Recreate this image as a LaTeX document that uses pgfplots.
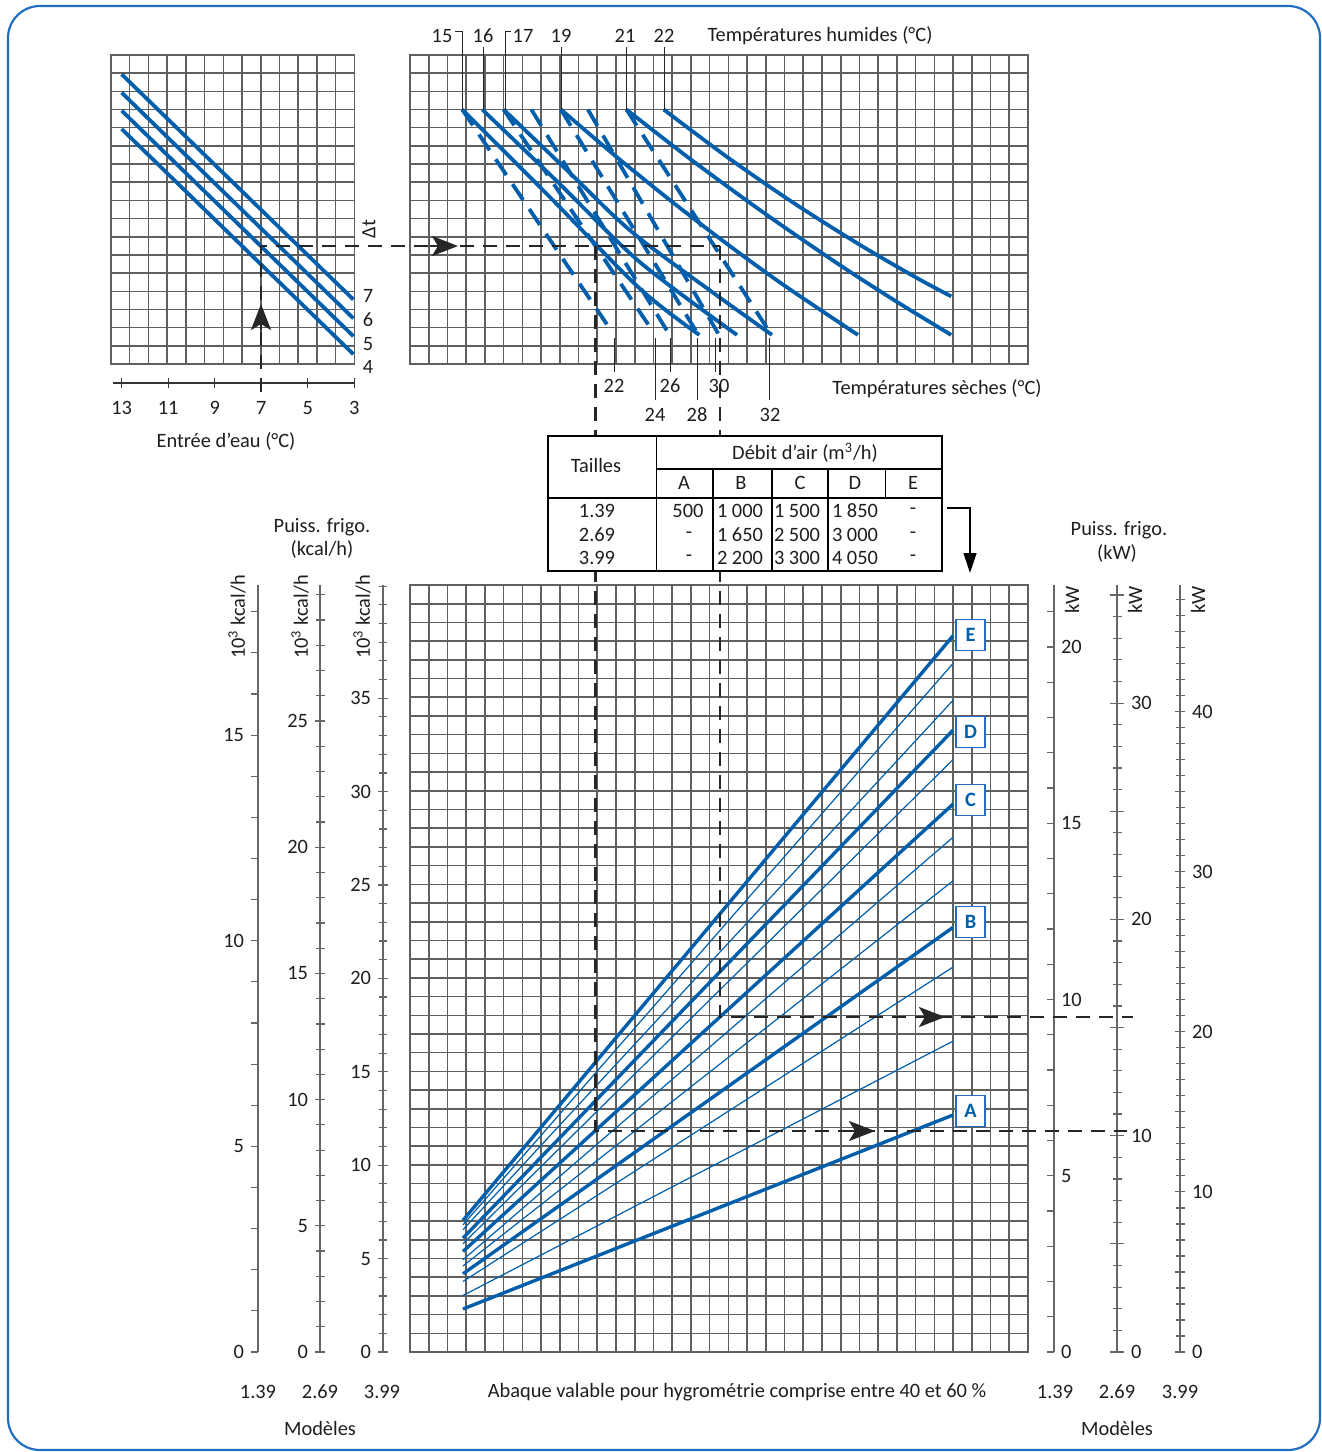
\documentclass[border=0pt]{standalone}
\usepackage{pgfplots}
\pgfplotsset{compat=1.18}
\usepackage{fontspec}
\setmainfont{Carlito}
\usetikzlibrary{arrows.meta}
\definecolor{bl}{RGB}{0,94,170}
\definecolor{fr}{RGB}{35,110,195}
\definecolor{gc}{RGB}{95,95,95}
\definecolor{tx}{RGB}{30,30,30}
\newcommand{\fs}{\fontsize{10.2}{12}\selectfont}
\pgfplotsset{
  every axis/.append style={/pgf/number format/assume math mode=true,
     tick label style={font=\fs, text=tx}},
  gridax/.style={scale only axis, anchor=south west, clip=false,
     xtick distance=1, ytick distance=1, xticklabels={}, yticklabels={},
     major tick length=0pt, tick style={draw=none},
     grid=major, major grid style={gc, line width=0.78pt},
     axis line style={gc, line width=0.8pt}},
  bthick/.style={bl, line width=1.9pt, mark=none},
  bdash/.style={bl, line width=1.9pt, mark=none, dash pattern=on 9.5pt off 5.5pt},
  bheavy/.style={bl, line width=1.7pt, mark=none},
  bthin/.style={bl, line width=0.6pt, mark=none},
  vscale/.style={scale only axis, width=1pt, height=383.5pt, xmin=0, xmax=1, ymin=0,
     hide x axis, y axis line style={-, gray!80!black, line width=0.8pt},
     tick style={gray!80!black, line width=0.6pt}},
}
\begin{document}
\begin{tikzpicture}[font=\fs, text=tx]
% ---------- top-left panel ----------
\begin{axis}[gridax, at={(55.5pt,-182pt)}, width=121.65pt, height=154.5pt,
  xmin=0, xmax=13, ymin=0, ymax=17]
\addplot[bthick] coordinates {(0.57,15.94) (12.95,3.55)};
\addplot[bthick] coordinates {(0.57,14.93) (12.95,2.51)};
\addplot[bthick] coordinates {(0.57,13.94) (12.95,1.53)};
\addplot[bthick] coordinates {(0.57,12.93) (12.95,0.54)};
\end{axis}
% scale "Entree d'eau"
\begin{axis}[scale only axis, anchor=south west, at={(56.5pt,-191.5pt)},
  width=120.65pt, height=1pt, xmin=3, xmax=13.37, ymin=0, ymax=1, x dir=reverse,
  hide y axis, axis x line*=bottom, x axis line style={-, black!80, line width=0.7pt},
  xtick={3,5,7,9,11,13}, tick align=center, major tick length=5pt,
  tick style={black!80, line width=0.6pt}, xticklabel style={yshift=-3pt}]
\end{axis}
% ---------- top-right panel ----------
\begin{axis}[gridax, at={(205pt,-182pt)}, width=309pt, height=154.5pt,
  xmin=0, xmax=33, ymin=0, ymax=17]
% dry temperatures (dashed)
\addplot[bdash] coordinates {(2.79,14) (10.7,1.9)};
\addplot[bdash] coordinates {(5.0,14) (12.9,1.9)};
\addplot[bdash] coordinates {(6.48,14) (13.86,1.6)};
\addplot[bdash] coordinates {(8.06,14) (15.4,1.6)};
\addplot[bdash] coordinates {(9.5,14) (16.5,1.6)};
\addplot[bdash] coordinates {(11.56,14) (19.3,1.6)};
% wet temperatures (solid)
\addplot[bthick, smooth] coordinates {(2.79,14) (7.5,9.15) (12.28,4.14) (15.45,1.6)};
\addplot[bthick, smooth] coordinates {(3.86,14) (8,9.9) (12.28,5.6) (17.46,1.6)};
\addplot[bthick, smooth] coordinates {(5.0,14) (8.6,10.45) (12.28,6.9) (19.33,1.6)};
\addplot[bthick, smooth] coordinates {(8.06,14) (11,11.42) (14,8.92) (17,6.55) (20,4.31) (23.92,1.6)};
\addplot[bthick, smooth] coordinates {(11.56,14) (15,11.25) (19,8.24) (23,5.41) (26,3.42) (28.9,1.6)};
\addplot[bthick, smooth] coordinates {(13.55,14) (17,11.34) (20.5,8.85) (24,6.57) (27,4.77) (28.9,3.72)};
\end{axis}
% ---------- main panel ----------
\begin{axis}[gridax, at={(205pt,-676pt)}, width=309pt, height=383.5pt,
  xmin=0, xmax=33, ymin=0, ymax=41]
\addplot[bthin] coordinates {(2.83,6.80) (29,36.81)};
\addplot[bthin] coordinates {(2.83,6.54) (29,34.84)};
\addplot[bthin] coordinates {(2.83,5.79) (29,31.67)};
\addplot[bthin] coordinates {(2.83,4.93) (29,27.52)};
\addplot[bthin] coordinates {(2.83,4.60) (29,25.19)};
\addplot[bthin] coordinates {(2.83,3.77) (29,20.58)};
\addplot[bthin] coordinates {(2.83,3.02) (29,16.62)};
\addplot[bheavy] coordinates {(2.83,7.04) (29,38.29)};
\addplot[bheavy] coordinates {(2.83,6.09) (29,33.24)};
\addplot[bheavy] coordinates {(2.83,5.375) (29,29.29)};
\addplot[bheavy] coordinates {(2.83,4.18) (29,22.70)};
\addplot[bheavy] coordinates {(2.83,2.30) (29,12.67)};
\end{axis}
% ---------- left kcal/h scales ----------
\begin{axis}[vscale, anchor=south west, at={(129pt,-676pt)}, ymax=18.65,
  axis y line*=left, ytick={0,5,10,15}, minor ytick={0,...,18},
  tick align=outside, major tick length=3.5pt, minor tick length=3.5pt]
\end{axis}
\begin{axis}[vscale, anchor=south west, at={(160pt,-676pt)}, ymax=30.39,
  axis y line*=left, ytick={0,5,...,25}, minor ytick={0,...,30},
  tick align=center, major tick length=5pt, minor tick length=4.5pt]
\end{axis}
\begin{axis}[vscale, anchor=south west, at={(191.5pt,-676pt)}, ymax=41.06,
  axis y line*=left, ytick={0,5,...,35}, minor ytick={0,...,41},
  tick align=center, major tick length=5pt, minor tick length=4.5pt]
\end{axis}
% ---------- right kW scales ----------
\begin{axis}[vscale, anchor=south east, at={(527pt,-676pt)}, ymax=21.76,
  axis y line*=right, yticklabel pos=right, ytick={0,5,...,20}, minor ytick={0,...,21},
  tick align=inside, major tick length=3.5pt, minor tick length=3.5pt]
\end{axis}
\begin{axis}[vscale, anchor=south east, at={(558.5pt,-676pt)}, ymax=35.46,
  axis y line*=right, yticklabel pos=right, ytick={0,5,...,35},
  yticklabels={0,,10,,20,,30,}, minor ytick={0,...,35},
  tick align=center, major tick length=7pt, minor tick length=4.5pt]
\end{axis}
\begin{axis}[vscale, anchor=south east, at={(590pt,-676pt)}, ymax=47.9,
  axis y line*=right, yticklabel pos=right, ytick={0,5,...,45},
  yticklabels={0,,10,,20,,30,,40,}, minor ytick={0,...,47},
  tick align=center, major tick length=5pt, minor tick length=4.5pt]
\end{axis}
% ---------- annotations (pixel coordinates) ----------
\begin{scope}[x=0.5pt, y=-0.5pt]
\path (0,0) rectangle (1322,1452);
\draw[fr, line width=1.1pt, rounded corners=16pt] (8,6) rectangle (1320,1450);
% dashed example path
\begin{scope}[black!85, line width=1.4pt, dash pattern=on 7pt off 4.5pt]
\draw (261,392) -- (261,246) -- (720,246);
\draw (595.5,246) -- (595.5,1131) -- (1127,1131);
\draw (720,246) -- (720,1017) -- (1133,1017);
\end{scope}
\begin{scope}[black!85, line width=1.4pt]
\draw[-{Stealth[length=13pt,width=10pt,inset=3pt]}] (261,330) -- (261,304);
\draw[-{Stealth[length=13pt,width=10pt,inset=3pt]}] (430,246) -- (458,246);
\draw[-{Stealth[length=13pt,width=10pt,inset=3pt]}] (848,1131) -- (875,1131);
\draw[-{Stealth[length=13pt,width=10pt,inset=3pt]}] (918,1017) -- (945,1017);
\end{scope}
% table
\fill[white] (548,436) rectangle (942,571);
\begin{scope}[black, line width=0.55pt]
\draw (548,436) rectangle (942,571);
\draw (656.5,436) -- (656.5,571);
\draw (656.5,469) -- (942,469);
\draw (548,498) -- (942,498);
\draw (713,469) -- (713,571);
\draw (772,469) -- (772,571);
\draw (828,469) -- (828,571);
\draw (885.5,469) -- (885.5,498);
\end{scope}
\node at (596,465) {Tailles};
\node at (805,453) {Débit d'air (m\textsuperscript{3}/h)};
\node at (684,483) {A}; \node at (741,483) {B}; \node at (800,483) {C};
\node at (855,483) {D}; \node at (913,483) {E};
\node at (597,511) {1.39}; \node at (597,535) {2.69}; \node at (597,558) {3.99};
\node at (688,511) {500}; \node at (689,535) {-}; \node at (689,558) {-};
\node at (740,511) {1 000}; \node at (740,535) {1 650}; \node at (740,558) {2 200};
\node at (797,511) {1 500}; \node at (797,535) {2 500}; \node at (797,558) {3 300};
\node at (855,511) {1 850}; \node at (855,535) {3 000}; \node at (855,558) {4 050};
\node at (913,511) {-}; \node at (913,535) {-}; \node at (913,558) {-};
\draw[black, line width=0.6pt, -{Triangle[length=10pt,width=6.5pt]}] (947,508) -- (970,508) -- (970,573);
% top labels and leaders
\node at (820,36) {Températures humides (°C)};
\node at (442,36) {15}; \node at (483,36) {16}; \node at (523,36) {17};
\node at (561,36) {19}; \node at (625,36) {21}; \node at (664,36) {22};
\begin{scope}[black!85, line width=0.5pt]
\draw (455,31) -- (462,31) -- (462,110);
\draw (483,47) -- (483,110);
\draw (511,31) -- (505,31) -- (505,110);
\draw (561,47) -- (561,110);
\draw (626.5,47) -- (626.5,110);
\draw (664,47) -- (664,110);
\draw (614,338) -- (614,372);
\draw (655,338) -- (655,400);
\draw (670.5,338) -- (670.5,372);
\draw (697,338) -- (697,400);
\draw (715,338) -- (715,372);
\draw (769.5,338) -- (769.5,400);
\end{scope}
\node at (614,386) {22}; \node at (670,386) {26}; \node at (719,386) {30};
\node at (655,415) {24}; \node at (697,415) {28}; \node at (770,415) {32};
\node at (937,389) {Températures sèches (°C)};
% left panel labels
\node at (368,296) {7}; \node at (368,320) {6}; \node at (368,344) {5}; \node at (368,367) {4};
\node[rotate=90] at (369,229) {Δt};
\node at (226,441) {Entrée d'eau (°C)};
% scale titles
\node at (322,527) {Puiss. frigo.};
\node at (322,549) {(kcal/h)};
\node at (1119,530) {Puiss. frigo.};
\node at (1117,553) {(kW)};
\node[rotate=90] at (237,617) {10\textsuperscript{3} kcal/h};
\node[rotate=90] at (300,617) {10\textsuperscript{3} kcal/h};
\node[rotate=90] at (362,617) {10\textsuperscript{3} kcal/h};
\node[rotate=90] at (1072,600) {kW};
\node[rotate=90] at (1135,600) {kW};
\node[rotate=90] at (1198,600) {kW};
% bottom labels
\node at (258,1392) {1.39}; \node at (320,1392) {2.69}; \node at (382,1392) {3.99};
\node at (1055,1392) {1.39}; \node at (1117,1392) {2.69}; \node at (1180,1392) {3.99};
\node at (320,1428) {Modèles}; \node at (1117,1428) {Modèles};
\node at (737,1392) {Abaque valable pour hygrométrie comprise entre 40 et 60 \%};
% curve letters
\begin{scope}[every node/.style={draw=fr, fill=white, text=bl, line width=0.7pt,
   font=\fs\bfseries, minimum width=14.5pt, minimum height=15.5pt, inner sep=0pt}]
\node at (970.5,635) {E};
\node at (970.5,732) {D};
\node at (970.5,800) {C};
\node at (970.5,922) {B};
\node at (970.5,1111) {A};
\end{scope}
\end{scope}
\end{tikzpicture}
\end{document}
